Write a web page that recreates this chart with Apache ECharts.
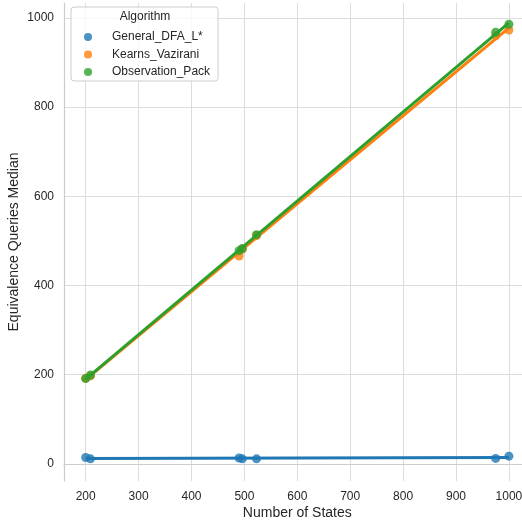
<!DOCTYPE html>
<html>
<head>
<meta charset="utf-8">
<script src="https://cdn.jsdelivr.net/npm/echarts@6/dist/echarts.min.js"></script>
<style>
  html, body { margin: 0; padding: 0; background: #ffffff; }
  #chart { width: 522px; height: 524px; }
</style>
</head>
<body>
<div id="chart"></div>
<script>
// ---- Data ----
const algorithms = ['General_DFA_L*', 'Kearns_Vazirani', 'Observation_Pack'];
const numStates = [200, 209, 490, 496, 523, 975, 1000];
const generalDfaL = [14, 11, 13, 11, 11, 12, 17];
const kearnsVazirani = [192, 197, 466, 481, 512, 960, 973];
const observationPack = [191, 199, 478, 483, 514, 968, 986];
const xTicks = [200, 300, 400, 500, 600, 700, 800, 900, 1000];
const yTicks = [0, 200, 400, 600, 800, 1000];

const colors = ['#1f77b4', '#ff7f0e', '#2ca02c'];
const seriesValues = [generalDfaL, kearnsVazirani, observationPack];

function fitLine(xs, ys) {
  const n = xs.length;
  let sx = 0, sy = 0, sxx = 0, sxy = 0;
  for (let i = 0; i < n; i++) { sx += xs[i]; sy += ys[i]; sxx += xs[i]*xs[i]; sxy += xs[i]*ys[i]; }
  const slope = (n*sxy - sx*sy) / (n*sxx - sx*sx);
  const icpt = (sy - slope*sx) / n;
  const x0 = Math.min(...xs), x1 = Math.max(...xs);
  return [[x0, icpt + slope*x0], [x1, icpt + slope*x1]];
}

const series = [];
algorithms.forEach((name, i) => {
  series.push({
    name: name,
    type: 'scatter',
    data: numStates.map((x, j) => [x, seriesValues[i][j]]),
    symbolSize: 9,
    itemStyle: { color: colors[i], opacity: 0.8 },
    z: 2 + i * 2
  });
  series.push({
    name: name + '_fit',
    type: 'line',
    data: fitLine(numStates, seriesValues[i]),
    showSymbol: false,
    lineStyle: { color: colors[i], width: 3 },
    itemStyle: { color: colors[i] },
    z: 3 + i * 2
  });
});

const fontFam = '"Liberation Sans", Arial, sans-serif';
const chart = echarts.init(document.getElementById('chart'), null, { renderer: 'canvas' });
chart.setOption({
  animation: false,
  backgroundColor: '#ffffff',
  grid: { left: 64, top: 3, width: 466.6, height: 478, containLabel: false, outerBoundsMode: 'none' },
  xAxis: {
    type: 'value',
    min: 159, max: 1041,
    name: 'Number of States',
    nameLocation: 'middle',
    nameGap: 25,
    nameMoveOverlap: false,
    nameTextStyle: { fontSize: 14, color: '#262626', fontFamily: fontFam },
    axisLine: { show: true, lineStyle: { color: '#cccccc', width: 1.2 } },
    axisTick: { show: false, customValues: xTicks },
    axisLabel: { customValues: xTicks, formatter: v => String(v), fontSize: 12, color: '#262626', fontFamily: fontFam, margin: 10 },
    splitLine: { show: true, lineStyle: { color: '#dcdcdc', width: 1 } }
  },
  yAxis: {
    type: 'value',
    min: -38.7, max: 1033.7,
    name: 'Equivalence Queries Median',
    nameLocation: 'middle',
    nameGap: 43,
    nameMoveOverlap: false,
    nameTextStyle: { fontSize: 14, color: '#262626', fontFamily: fontFam },
    axisLine: { show: true, lineStyle: { color: '#cccccc', width: 1.2 } },
    axisTick: { show: false, customValues: yTicks },
    axisLabel: { customValues: yTicks, formatter: v => String(v), fontSize: 12, color: '#262626', fontFamily: fontFam, margin: 10 },
    splitLine: { show: true, lineStyle: { color: '#dcdcdc', width: 1 } }
  },
  legend: {
    data: algorithms.map((n, i) => ({ name: n, icon: 'circle', itemStyle: { color: colors[i], opacity: 0.8 } })),
    orient: 'vertical',
    left: 71, top: 7,
    padding: [23, 8, 2, 13],
    itemWidth: 24, itemHeight: 8,
    itemGap: 3.5,
    textStyle: { fontSize: 12, color: '#262626', fontFamily: fontFam, lineHeight: 14, padding: [0, 0, 0, 7] },
    backgroundColor: 'rgba(255,255,255,0.8)',
    borderColor: '#cccccc', borderWidth: 1, borderRadius: 3,
    z: 20
  },
  graphic: [{
    type: 'text', x: 145, y: 17, z: 30,
    style: { text: 'Algorithm', textAlign: 'center', textVerticalAlign: 'middle',
             font: '12px "Liberation Sans", Arial, sans-serif', fill: '#262626' }
  }],
  series: series
});
</script>
</body>
</html>
